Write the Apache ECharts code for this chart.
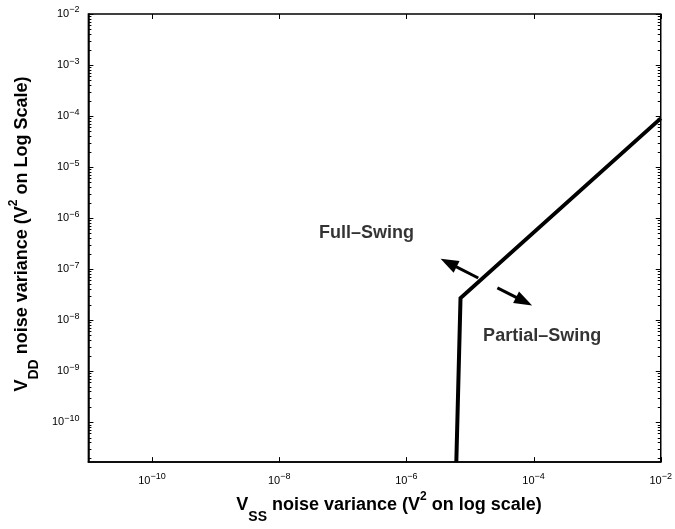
<!DOCTYPE html>
<html><head><meta charset="utf-8">
<script src="https://cdn.jsdelivr.net/npm/echarts@6/dist/echarts.min.js"></script>
<style>html,body{margin:0;padding:0;background:#fff}#c{width:675px;height:529px}</style>
</head><body><div id="c"></div>
<script>
// ---- data ----
const xMin = 1e-11, xMax = 1e-2;
const yMin = 1.65e-11, yMax = 1e-2;
const boundaryVss = [6.1e-6, 7.1e-6, 1e-2];
const boundaryVdd = [1.65e-11, 2.7e-8, 9e-5];
const xTickExponents = [-10, -8, -6, -4, -2];
const yTickExponents = [-10, -9, -8, -7, -6, -5, -4, -3, -2];
const minorMultipliers = [2, 3, 4, 5, 6, 7, 8, 9];
const arrowStartVss = [1.35e-5, 2.7e-5];
const arrowStartVdd = [6.7e-8, 4.3e-8];
const arrowHeadVss = [4.61e-6, 7.10e-5];
const arrowHeadVdd = [1.33e-7, 2.33e-8];
const regionLabels = ['Full\u2013Swing', 'Partial\u2013Swing'];
const regionLabelVss = [2.37e-7, 1.61e-5];
const regionLabelVdd = [5.15e-7, 4.86e-9];

// ---- build ----
const F = '"Liberation Sans", Arial, Helvetica, sans-serif';
function expLabel(v, allowed) {
  const l = Math.log10(v), e = Math.round(l);
  if (Math.abs(l - e) > 1e-6 || allowed.indexOf(e) < 0) return '';
  return '{b|10}{s|' + (e < 0 ? '\u2212' : '') + Math.abs(e) + '}';
}
const tickRich = {
  b: {fontSize: 11, fontFamily: F, color: '#000'},
  s: {fontSize: 9, fontFamily: F, color: '#000', padding: [0, 0, 8, 0]}
};
const nameRich = {
  t: {fontSize: 18, fontWeight: 'bold', fontFamily: F, color: '#000'},
  sub: {fontSize: 14, fontWeight: 'bold', fontFamily: F, color: '#000', padding: [24, 0, 0, 0]},
  sup: {fontSize: 12, fontWeight: 'bold', fontFamily: F, color: '#000', padding: [0, 0, 16, 0]}
};

const tickData = [];
yTickExponents.forEach(e => tickData.push([xMin, Math.pow(10, e), 0, 5]));
for (let e = -11; e < -2; e++) {
  minorMultipliers.forEach(m => {
    const v = m * Math.pow(10, e);
    if (v > yMin && v < yMax) tickData.push([xMin, v, 0, 3]);
  });
}
xTickExponents.forEach(e => tickData.push([Math.pow(10, e), yMin, 1, 5]));

const arrowLines = arrowStartVss.map((x, i) => [
  {coord: [x, arrowStartVdd[i]]},
  {coord: [arrowHeadVss[i], arrowHeadVdd[i]]}
]);

const chart = echarts.init(document.getElementById('c'), null, {renderer: 'canvas'});
chart.setOption({
  animation: false,
  backgroundColor: '#fff',
  grid: {left: 81, right: 10, top: 14, bottom: 53, show: true, borderColor: '#000', borderWidth: 1.5, containLabel: false},
  xAxis: {
    type: 'log', logBase: 10, min: xMin, max: xMax, splitNumber: 9,
    axisLine: {show: true, lineStyle: {color: '#000', width: 1.5}},
    axisTick: {show: false}, splitLine: {show: false}, minorTick: {show: false},
    axisLabel: {margin: 10, formatter: v => expLabel(v, xTickExponents), rich: tickRich, showMinLabel: true, showMaxLabel: true},
    name: '{t|V}{sub|SS}{t| noise variance (V}{sup|2}{t| on log scale)}',
    nameLocation: 'middle', nameGap: 16,
    nameTextStyle: {rich: nameRich, padding: [0, 0, 0, 29]}
  },
  yAxis: {
    type: 'log', logBase: 10, min: yMin, max: yMax, splitNumber: 9,
    axisLine: {show: true, lineStyle: {color: '#000', width: 1.5}},
    axisTick: {show: false}, splitLine: {show: false}, minorTick: {show: false},
    axisLabel: {margin: 9, formatter: v => expLabel(v, yTickExponents), rich: tickRich, showMinLabel: true, showMaxLabel: true},
    name: '{t|V}{sub|DD}{t| noise variance (V}{sup|2}{t| on Log Scale)}',
    nameLocation: 'middle', nameGap: 38, nameRotate: 90,
    nameTextStyle: {rich: nameRich, padding: [0, 0, 0, 8]}
  },
  series: [
    {
      type: 'line', data: boundaryVss.map((x, i) => [x, boundaryVdd[i]]),
      showSymbol: false, symbol: 'none', clip: true, silent: true,
      lineStyle: {color: '#000', width: 4, join: 'miter', cap: 'butt'},
      markLine: {
        silent: true, symbol: ['none', 'triangle'], symbolSize: [13, 18],
        label: {show: false},
        lineStyle: {color: '#000', width: 3, type: 'solid'},
        itemStyle: {color: '#000'},
        emphasis: {disabled: true},
        data: arrowLines
      }
    },
    {
      type: 'scatter', symbolSize: 0, silent: true,
      data: regionLabels.map((t, i) => ({
        value: [regionLabelVss[i], regionLabelVdd[i]],
        label: {
          show: true, formatter: t,
          position: i === 0 ? 'inside' : 'right', distance: 0,
          fontSize: 18, fontWeight: 'bold', fontFamily: F, color: '#000'
        }
      }))
    },
    {
      type: 'custom', silent: true, clip: false, z: 10,
      encode: {x: 0, y: 1},
      data: tickData,
      renderItem: function (params, api) {
        const kind = api.value(2), len = api.value(3);
        const p = api.coord([api.value(0), api.value(1)]);
        const cs = params.coordSys;
        const st = {stroke: '#000', lineWidth: 1};
        if (kind === 0) {
          const y = Math.round(p[1]) + 0.5;
          return {type: 'group', children: [
            {type: 'line', shape: {x1: cs.x, y1: y, x2: cs.x + len, y2: y}, style: st},
            {type: 'line', shape: {x1: cs.x + cs.width, y1: y, x2: cs.x + cs.width - len, y2: y}, style: st}
          ]};
        }
        const x = Math.round(p[0]) + 0.5;
        return {type: 'group', children: [
          {type: 'line', shape: {x1: x, y1: cs.y + cs.height, x2: x, y2: cs.y + cs.height - len}, style: st},
          {type: 'line', shape: {x1: x, y1: cs.y, x2: x, y2: cs.y + len}, style: st}
        ]};
      }
    }
  ]
});
</script>
</body></html>
